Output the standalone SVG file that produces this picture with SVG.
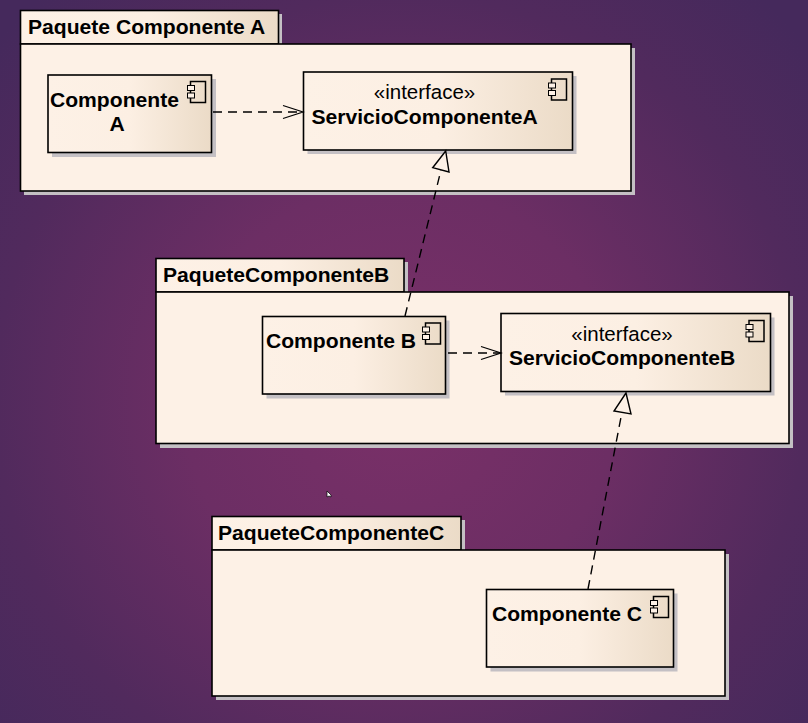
<svg xmlns="http://www.w3.org/2000/svg" width="808" height="723" viewBox="0 0 808 723">
<defs>
<radialGradient id="bg" gradientUnits="userSpaceOnUse" cx="400" cy="400" r="540">
<stop offset="0" stop-color="#7a3068"/><stop offset="0.4" stop-color="#6c2e64"/><stop offset="0.75" stop-color="#512a5d"/><stop offset="1" stop-color="#45295c"/>
</radialGradient>
<linearGradient id="fill" x1="0" y1="0" x2="1" y2="0">
<stop offset="0" stop-color="#fdf1e6"/><stop offset="0.5" stop-color="#fcefe3"/><stop offset="1" stop-color="#ebdbc7"/>
</linearGradient>
<marker id="open" markerUnits="userSpaceOnUse" markerWidth="24" markerHeight="16" refX="22" refY="8" orient="auto">
<path d="M2 1.500 L22 8 L2 14.500" fill="none" stroke="#000" stroke-width="1.2"/>
</marker>
<g id="icon"><rect x="3.500" y="0.500" width="15" height="21" fill="none" stroke="#000" stroke-width="1.5"/><rect x="0.500" y="4.500" width="7" height="5" fill="#fdf1e6" stroke="#000"/><rect x="0.500" y="12" width="7" height="5" fill="#fdf1e6" stroke="#000"/></g>
</defs>
<style>
.sh{fill:#c4c0c4}
.pk{fill:#fdf1e6;stroke:#000;stroke-width:1.6}
.tab{fill:url(#fill);stroke:#000;stroke-width:1.6}
.box{fill:url(#fill);stroke:#000;stroke-width:1.6}
text{font-family:"Liberation Sans",Arial,sans-serif;font-size:20.500px;fill:#000}
.b{font-weight:bold;font-size:21.100px}
.dash{fill:none;stroke:#000;stroke-width:1.4;stroke-dasharray:9 6}
.tri{fill:#fdf1e6;stroke:#000;stroke-width:1.4}
</style>
<rect width="808" height="723" fill="url(#bg)"/>
<g id="paquete-a">
<rect class="sh" x="24" y="14" width="258" height="30"/><rect class="sh" x="24" y="48" width="611" height="147"/>
<rect class="tab" x="20.500" y="10.500" width="258" height="33.500"/><rect class="pk" x="20.500" y="44" width="610.500" height="147"/>
<text class="b" x="28" y="34">Paquete Componente A</text>
</g>
<g id="paquete-b">
<rect class="sh" x="160" y="262" width="248" height="30"/><rect class="sh" x="160" y="296" width="633" height="152"/>
<rect class="tab" x="156" y="258.500" width="248" height="33.500"/><rect class="pk" x="156" y="292" width="633" height="151.500"/>
<text class="b" x="163" y="282">PaqueteComponenteB</text>
</g>
<g id="paquete-c">
<rect class="sh" x="216" y="520" width="249" height="30"/><rect class="sh" x="216" y="554" width="513" height="146"/>
<rect class="tab" x="212" y="516.500" width="249" height="33.500"/><rect class="pk" x="212" y="550" width="513" height="146"/>
<text class="b" x="218" y="540">PaqueteComponenteC</text>
</g>
<g id="componente-a">
<rect class="sh" x="52" y="79" width="164" height="78"/><rect class="box" x="48" y="75" width="163.500" height="77.500"/>
<text class="b" x="50" y="107">Componente</text><text class="b" x="117" y="131" text-anchor="middle">A</text>
<use href="#icon" x="187" y="81"/>
</g>
<g id="servicio-a">
<rect class="sh" x="307.500" y="76" width="269" height="78"/><rect class="box" x="303.500" y="72" width="269" height="78"/>
<text x="424.500" y="99" text-anchor="middle">«interface»</text><text class="b" x="311.500" y="124">ServicioComponenteA</text>
<use href="#icon" x="548" y="78.500"/>
</g>
<g id="componente-b">
<rect class="sh" x="266.500" y="320.500" width="183" height="78"/><rect class="box" x="262.500" y="316.500" width="183" height="77.500"/>
<text class="b" x="266" y="348">Componente B</text>
<use href="#icon" x="422" y="322.500"/>
</g>
<g id="servicio-b">
<rect class="sh" x="505" y="317.500" width="269.500" height="78"/><rect class="box" x="501" y="313.500" width="269.500" height="78"/>
<text x="622" y="341" text-anchor="middle">«interface»</text><text class="b" x="509" y="365">ServicioComponenteB</text>
<use href="#icon" x="745.500" y="320"/>
</g>
<g id="componente-c">
<rect class="sh" x="490.500" y="593.500" width="187" height="78"/><rect class="box" x="486.500" y="589.500" width="187" height="77.500"/>
<text class="b" x="492" y="621">Componente C</text>
<use href="#icon" x="650" y="596"/>
</g>
<g id="connectors">
<path class="dash" d="M213 112 H303" marker-end="url(#open)"/>
<path class="dash" d="M448 353 H501" marker-end="url(#open)"/>
<path class="dash" d="M405 316 L441 170"/>
<path class="tri" d="M445.700 151 L432.700 167.700 L449 172 Z"/>
<path class="dash" d="M588 589 L622 412"/>
<path class="tri" d="M626 393 L614 411 L631 414 Z"/>
</g>
<path id="cursor" d="M327 491 L327 497 L329 496 L331 497 L331 495 Z" fill="#fff" stroke="#111" stroke-width="0.8"/>
</svg>
